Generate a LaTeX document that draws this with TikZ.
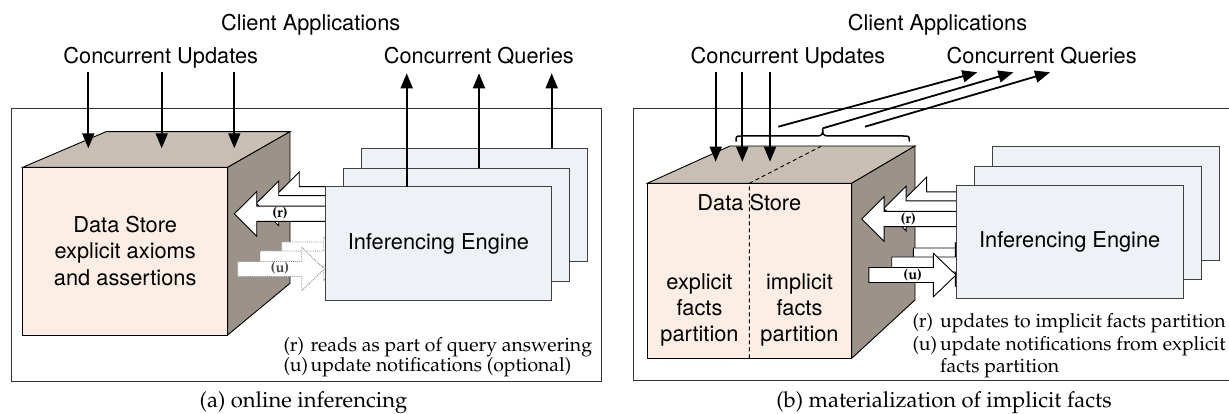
\documentclass[tikz,border=0pt]{standalone}
\usepackage{fontspec}
\setsansfont{TeX Gyre Heros}
\usetikzlibrary{arrows.meta}
% Palatino (psnfss) for the serif legend and captions
\newcommand\palfont{\fontencoding{OT1}\fontfamily{ppl}\selectfont}

\definecolor{facefront}{HTML}{FCEEE4}
\definecolor{facetop}{HTML}{C8BEB3}
\definecolor{faceside}{HTML}{9B928A}
\definecolor{engfill}{HTML}{EEF1F6}

\tikzset{
  frame/.style={draw=black!80, line width=1pt},
  cubeedge/.style={draw=black, line width=0.9pt, line join=miter},
  engine/.style={draw=black!75, fill=engfill, line width=1pt,
    minimum width=226.7pt, minimum height=113.3pt, inner sep=0pt, outer sep=0pt,
    font=\sffamily\fontsize{21.8}{26}\selectfont},
  flow/.style={line width=1.8pt, -{Triangle[length=15pt,width=12pt]}},
  hollow/.style={draw=black, fill=white, line width=0.9pt},
  hollowdot/.style={draw=black!45, fill=white, line width=0.9pt, densely dotted},
  tag/.style={font={\palfont\bfseries\fontsize{14.5}{15}\selectfont}, fill=white, inner sep=0.3pt},
  heading/.style={font=\sffamily\fontsize{21.8}{26}\selectfont, anchor=base, inner sep=0pt},
  storetext/.style={font=\sffamily\fontsize{21.8}{26.3}\selectfont, align=center, inner sep=0pt},
  legend/.style={font={\palfont\fontsize{19.4}{22}\selectfont}, anchor=base west, inner sep=0pt},
  caption/.style={font={\palfont\fontsize{22}{26}\selectfont}, anchor=base, inner sep=0pt},
  brace/.style={draw=black, line width=1.5pt},
  pics/leftarrow/.style={code={
    \path[pic actions] (0,0) -- (22.4,-22.3) -- (22.4,-7.6) -- (#1,-7.6) -- (#1,7.6)
      -- (22.4,7.6) -- (22.4,22.3) -- cycle;}},
  pics/rightarrow/.style={code={
    \path[pic actions] (0,0) -- (-22.6,-21.7) -- (-22.6,-7.5) -- (-#1,-7.5) -- (-#1,7.5)
      -- (-22.6,7.5) -- (-22.6,21.7) -- cycle;}},
}

\begin{document}
\begin{tikzpicture}[x=1pt, y=-1pt]
\useasboundingbox (0,0) rectangle (1229,414);

% ================= (a) online inferencing =================
\draw[frame] (11,108.3) rectangle (601.7,381);

% data store cube
\filldraw[cubeedge, fill=facetop] (22.7,167.3) -- (106,131.7) -- (290,131.7) -- (227.7,167.3) -- cycle;
\filldraw[cubeedge, fill=faceside] (227.7,167.3) -- (290,131.7) -- (290,283.3) -- (227.7,335) -- cycle;
\filldraw[cubeedge, fill=facefront] (22.7,167.3) rectangle (227.7,335);
\node[storetext] (storeA) at (125.2,251) {Data Store\\explicit axioms\\and assertions};

% stacked engines (back ones first)
\node[engine] (engA3) at (474.5,205) {};
\node[engine] (engA2) at (456.4,225) {};

% reads (r) and update notifications (u)
\pic[hollow] at (276.8,194.3) {leftarrow=49.2};
\pic[hollow] at (256.3,203.3) {leftarrow=69.7};
\pic[hollow] at (234.3,213.8) {leftarrow=91.7};
\pic[hollowdot] at (366.8,249.5) {rightarrow=85.1};
\pic[hollowdot] at (346.3,258.5) {rightarrow=86.3};
\pic[hollowdot] at (324.3,269) {rightarrow=86.6};

\node[engine] (engA1) at (438.4,243.4) {Inferencing Engine};

\node[tag] (tagrA) at (280,213.5) {(r)};
\node[tag, text=black!70] (taguA) at (280,268.5) {(u)};

% client updates and queries
\coordinate (uaS1) at (88.3,71.7);  \coordinate (uaE1) at (88.3,148.3);
\coordinate (uaS2) at (161.7,71.7); \coordinate (uaE2) at (161.7,148.3);
\coordinate (uaS3) at (234.3,71.7); \coordinate (uaE3) at (234.3,148.3);
\draw[flow] (uaS1) -- (uaE1);
\draw[flow] (uaS2) -- (uaE2);
\draw[flow] (uaS3) -- (uaE3);

\coordinate (qaE1) at (406.7,73.3);
\coordinate (qaE2) at (479,73.3);
\coordinate (qaE3) at (551.7,73.3);
\draw[flow] (engA1.north -| qaE1) -- (qaE1);
\draw[flow] (engA2.north -| qaE2) -- (qaE2);
\draw[flow] (engA3.north -| qaE3) -- (qaE3);

\node[heading] (clientA) at (310.7,31) {Client Applications};
\node[heading] (updA) at (160.8,64) {Concurrent Updates};
\node[heading] (qryA) at (478.8,64) {Concurrent Queries};

\node[legend] (lgrA) at (283.3,351) {(r)};
\node[legend] (lgrAt) at (310.5,351) {reads as part of query answering};
\node[legend] (lguA) at (283.3,371) {(u)};
\node[legend] (lguAt) at (310.5,371) {update notifications (optional)};

\node[caption] (capA) at (303.5,407.5) {(a) online inferencing};

% ================= (b) materialization of implicit facts =================
\draw[frame] (633.3,109) rectangle (1232,380.7);

% partitioned data store cube
\filldraw[cubeedge, fill=facetop] (647.3,183.3) -- (730,146) -- (915,146) -- (851.7,183.3) -- cycle;
\filldraw[cubeedge, fill=faceside] (851.7,183.3) -- (915,146) -- (915,300) -- (851.7,358.3) -- cycle;
\filldraw[cubeedge, fill=facefront] (647.3,183.3) rectangle (851.7,358.3);
\draw[line width=0.9pt, dash pattern=on 4pt off 3pt] (749.3,358.3) -- (749.3,183.3) -- (821.7,146);

\node[storetext] (storeB) at (749.3,202.7) {Data Store};
\node[storetext] (explB) at (699.5,310) {explicit\\facts\\partition};
\node[storetext] (implB) at (799.5,310) {implicit\\facts\\partition};

\node[engine] (engB3) at (1105.8,203.4) {};
\node[engine] (engB2) at (1087.8,222.9) {};

\pic[hollow] at (904.2,199.5) {leftarrow=52.8};
\pic[hollow] at (883.7,208.5) {leftarrow=73.3};
\pic[hollow] at (861.7,219) {leftarrow=95.3};
\pic[hollow] at (998.5,255.5) {rightarrow=85.2};
\pic[hollow] at (978,264.5) {rightarrow=86.3};
\pic[hollow] at (956,275) {rightarrow=87.1};

\node[engine] (engB1) at (1069.7,241.7) {Inferencing Engine};

\node[tag] (tagrB) at (908.3,219.3) {(r)};
\node[tag] (taguB) at (912.7,275) {(u)};

% brace over the top of the store
\coordinate (braceL) at (736,141.7);
\coordinate (braceR) at (909.3,141.7);
\coordinate (braceT) at (822.7,128.3);
\draw[brace] (braceL) .. controls (736,136) .. (742,136) -- (816.7,136)
  .. controls (822.7,136) and (822.7,134) .. (braceT)
  .. controls (822.7,134) and (822.7,136) .. (828.7,136) -- (903.3,136)
  .. controls (909.3,136) .. (braceR);

% client updates and queries
\coordinate (ubS1) at (715.7,71.7); \coordinate (ubE1) at (715.7,161.7);
\coordinate (ubS2) at (742.3,71.7); \coordinate (ubE2) at (742.3,161.7);
\coordinate (ubS3) at (770,71.7);   \coordinate (ubE3) at (770,161.7);
\draw[flow] (ubS1) -- (ubE1);
\draw[flow] (ubS2) -- (ubE2);
\draw[flow] (ubS3) -- (ubE3);

\coordinate (qbS1) at (778.3,126.7); \coordinate (qbE1) at (977.3,72.3);
\coordinate (qbE2) at (1013.3,72.3);
\coordinate (qbS3) at (865,126.7);   \coordinate (qbE3) at (1050,72.3);
\draw[flow] (qbS1) -- (qbE1);
\draw[flow] (braceT) -- (qbE2);
\draw[flow] (qbS3) -- (qbE3);

\node[heading] (clientB) at (937.5,31) {Client Applications};
\node[heading] (updB) at (788,64) {Concurrent Updates};
\node[heading] (qryB) at (1041.7,64) {Concurrent Queries};

\node[legend] (lgrB) at (912.3,327.5) {(r)};
\node[legend] (lgrBt) at (940,327.5) {updates to implicit facts partition};
\node[legend] (lguB) at (912.3,350) {(u)};
\node[legend] (lguBt) at (940,350) {update notifications from explicit};
\node[legend] (lguBt2) at (940,372.5) {facts partition};

\node[caption] (capB) at (944,407.5) {(b) materialization of implicit facts};
\end{tikzpicture}
\end{document}
